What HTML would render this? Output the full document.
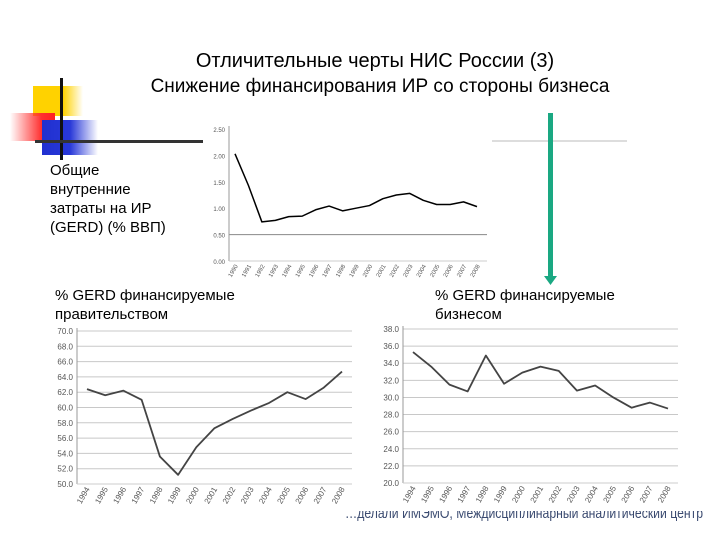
<!DOCTYPE html>
<html><head><meta charset="utf-8"><style>
body{margin:0;background:#fff;width:720px;height:540px;overflow:hidden;position:relative;font-family:"Liberation Sans","DejaVu Sans",sans-serif}
.t{position:absolute;color:#000;white-space:nowrap}
</style></head><body>
<svg width="720" height="540" style="position:absolute;left:0;top:0">
<defs>
<linearGradient id="gy" x1="0" x2="1"><stop offset="0" stop-color="#ffd200"/><stop offset="0.6" stop-color="#ffd200"/><stop offset="1" stop-color="#ffd200" stop-opacity="0"/></linearGradient>
<linearGradient id="gr" x1="1" x2="0"><stop offset="0" stop-color="#ff2020"/><stop offset="0.3" stop-color="#ff3030"/><stop offset="1" stop-color="#ff3030" stop-opacity="0"/></linearGradient>
<linearGradient id="gb" x1="0" x2="1"><stop offset="0" stop-color="#2030d0"/><stop offset="0.5" stop-color="#2838d8"/><stop offset="1" stop-color="#2838d8" stop-opacity="0"/></linearGradient>
<clipPath id="srcclip"><rect x="340" y="511" width="380" height="20"/></clipPath>
</defs>
<g>
<rect x="33" y="86" width="50" height="30" fill="url(#gy)"/>
<rect x="10" y="113" width="45" height="28" fill="url(#gr)"/>
<rect x="42" y="120" width="56" height="35" fill="url(#gb)"/>
<rect x="60" y="78" width="3" height="82" fill="#111"/>
<rect x="35" y="140" width="168" height="3" fill="#333"/>
<rect x="492" y="140" width="135" height="2" fill="#ddd"/>
</g>
<g>
<rect x="548" y="113" width="5" height="165" fill="#1aa882"/>
<polygon points="544,276 557,276 550.5,285" fill="#1aa882"/>
</g>
<text x="345" y="518" font-size="15" fill="#3a4a70" textLength="358" lengthAdjust="spacingAndGlyphs" clip-path="url(#srcclip)">…делали ИМЭМО, Междисциплинарный аналитический центр</text>
<g id="c1"></g>
<g id="c2"></g>
<g id="c3"></g>
</svg>
<div class="t" style="left:0;width:750px;text-align:center;top:50px;font-size:20px">Отличительные черты НИС России (3)</div>
<div class="t" style="left:0;width:760px;text-align:center;top:76px;font-size:19px">Снижение финансирования ИР со стороны бизнеса</div>
<div class="t" style="left:50px;top:161px;font-size:15px;line-height:19px">Общие<br>внутренние<br>затраты на ИР<br>(GERD) (% ВВП)</div>
<div class="t" style="left:55px;top:286px;font-size:15px;line-height:19px">% GERD финансируемые<br>правительством</div>
<div class="t" style="left:435px;top:286px;font-size:15px;line-height:19px">% GERD финансируемые<br>бизнесом</div>
<script>
const gerdYears=["1990","1991","1992","1993","1994","1995","1996","1997","1998","1999","2000","2001","2002","2003","2004","2005","2006","2007","2008"];
const gerdValues=[2.03,1.43,0.74,0.77,0.84,0.85,0.97,1.04,0.95,1.00,1.05,1.18,1.25,1.28,1.15,1.07,1.07,1.12,1.03];
const gerdTicks=["0.00","0.50","1.00","1.50","2.00","2.50"];
const years=["1994","1995","1996","1997","1998","1999","2000","2001","2002","2003","2004","2005","2006","2007","2008"];
const govValues=[62.4,61.6,62.2,61.0,53.6,51.2,54.8,57.3,58.5,59.6,60.6,62.0,61.1,62.6,64.7];
const govTicks=["50.0","52.0","54.0","56.0","58.0","60.0","62.0","64.0","66.0","68.0","70.0"];
const bizValues=[35.3,33.6,31.5,30.7,34.9,31.6,32.9,33.6,33.1,30.8,31.4,30.0,28.8,29.4,28.7];
const bizTicks=["20.0","22.0","24.0","26.0","28.0","30.0","32.0","34.0","36.0","38.0"];
const NS="http://www.w3.org/2000/svg";
function mk(p,tag,a){const e=document.createElementNS(NS,tag);for(const k in a)e.setAttribute(k,a[k]);p.appendChild(e);return e;}
function chart(g,o){
  const ticks=o.ticks.map(Number),min=ticks[0],max=ticks[ticks.length-1];
  const y=v=>o.y0-(v-min)/(max-min)*(o.y0-o.y1);
  const x=i=>o.x0+i*(o.x1-o.x0)/(o.cats.length-1);
  o.ticks.forEach((t,i)=>{
    const yy=y(ticks[i]);
    if(o.grid&&i>0){const l=mk(g,'line',{x1:o.ax,x2:o.gx,y1:yy,y2:yy,stroke:'#c8c8c8','stroke-width':1});
      }
    const tx=mk(g,'text',{x:o.ax-4,y:yy+3,'text-anchor':'end','font-size':o.fs,fill:'#555'});
    
    tx.textContent=t;
  });
  if(o.refLine!==undefined){const l=mk(g,'line',{x1:o.ax,x2:o.gx,y1:y(o.refLine),y2:y(o.refLine),stroke:'#888'});
    }
  const ax=mk(g,'line',{x1:o.ax,x2:o.ax,y1:o.y1-3,y2:o.y0,stroke:'#999'});
  
  const bx=mk(g,'line',{x1:o.ax,x2:o.gx,y1:o.y0,y2:o.y0,stroke:'#ccc'});
  
  o.cats.forEach((c,i)=>{
    const t=mk(g,'text',{transform:`translate(${x(i)+3},${o.y0+5}) rotate(-60)`,'text-anchor':'end','font-size':o.fs,fill:'#555'});
    
    t.textContent=c;
  });
  const p=mk(g,'polyline',{points:o.vals.map((v,i)=>x(i)+','+y(v)).join(' '),fill:'none',stroke:o.col,'stroke-width':o.sw,'stroke-linejoin':'round'});
  
}
chart(document.getElementById('c1'),{cats:gerdYears,vals:gerdValues,ticks:gerdTicks,x0:235,x1:477,ax:229,gx:487,y0:261,y1:129,fs:6,grid:false,refLine:0.5,col:'#000',sw:1.5});
chart(document.getElementById('c2'),{cats:years,vals:govValues,ticks:govTicks,x0:87,x1:342,ax:77,gx:352,y0:484,y1:331,fs:8,grid:true,col:'#444',sw:1.8});
chart(document.getElementById('c3'),{cats:years,vals:bizValues,ticks:bizTicks,x0:413,x1:668,ax:403,gx:678,y0:483,y1:329,fs:8,grid:true,col:'#444',sw:1.8});
</script>
</body></html>
